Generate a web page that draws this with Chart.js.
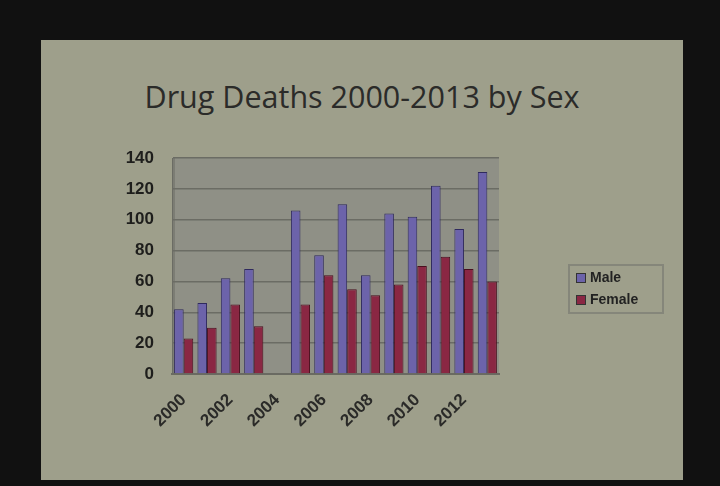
<!DOCTYPE html>
<html>
<head>
<meta charset="utf-8">
<script src="https://cdn.jsdelivr.net/npm/chart.js@4"></script>
<style>
  body { margin: 0; background: #111111; width: 720px; height: 486px; overflow: hidden; }
  #slide { position: absolute; left: 41px; top: 40px; width: 642px; height: 440px; background: #9e9f8b; }
  #title { position: absolute; left: 0; top: 35px; width: 642px; text-align: center;
           font: 30.5px "Open Sans", sans-serif; color: #2b2b29; }
  #wrap { position: absolute; left: 0; top: 0; width: 642px; height: 440px; }
  #legend { position: absolute; left: 527px; top: 224px; width: 92px; height: 46px; border: 2px solid #85867a;
            font: bold 14px "Liberation Sans", Arial, sans-serif; color: #222; }
  #legend div { height: 22px; line-height: 22px; padding-left: 6px; }
  #legend span { display: inline-block; width: 8px; height: 8px; border: 1px solid #333; margin-right: 4px; vertical-align: -1px; }
</style>
</head>
<body>
<div id="slide">
  <div id="title">Drug Deaths 2000-2013 by Sex</div>
  <div id="wrap"><canvas id="myChart"></canvas></div>
  <div id="legend"></div>
</div>
<script>
const years = ['2000', '2001', '2002', '2003', '2004', '2005', '2006', '2007', '2008', '2009', '2010', '2011', '2012', '2013'];
const male = [42, 46, 62, 68, null, 106, 77, 110, 64, 104, 102, 122, 94, 131];
const female = [23, 30, 45, 31, null, 45, 64, 55, 51, 58, 70, 76, 68, 60];
const seriesNames = ['Male', 'Female'];
const seriesColors = ['#6c63aa', '#8a2743'];
const seriesEdges = ['#2f2a5e', '#4a0f1f'];

// plot area background
const plotBg = {
    id: 'plotBg',
    beforeDraw(chart) {
        const a = chart.chartArea;
        const c = chart.ctx;
        c.save();
        c.fillStyle = '#8f9086';
        c.fillRect(a.left, a.top, a.right - a.left, a.bottom - a.top);
        c.fillStyle = '#7c7d74';
        c.fillRect(a.left, a.top, 3, a.bottom - a.top);
        c.restore();
    }
};

const ctx = document.getElementById('myChart').getContext('2d');
const myChart = new Chart(ctx, {
    type: 'bar',
    data: {
        labels: years,
        datasets: [{
            label: seriesNames[0],
            data: male,
            backgroundColor: seriesColors[0],
            borderColor: seriesEdges[0],
            borderWidth: 1
        }, {
            label: seriesNames[1],
            data: female,
            backgroundColor: seriesColors[1],
            borderColor: seriesEdges[1],
            borderWidth: 1
        }]
    },
    options: {
        responsive: true,
        maintainAspectRatio: false,
        animation: false,
        categoryPercentage: 0.82,
        barPercentage: 1.0,
        layout: { padding: { left: 0, right: 184, top: 118, bottom: 0 } },
        plugins: {
            legend: { display: false },
            tooltip: { enabled: false }
        },
        scales: {
            x: {
                grid: { display: false, drawTicks: false },
                border: { display: true, color: '#6a6a62', width: 2 },
                ticks: {
                    autoSkip: false,
                    minRotation: 45,
                    maxRotation: 45,
                    padding: 16,
                    color: '#2a2a28',
                    font: { family: 'Liberation Sans', size: 17, weight: 'bold' },
                    callback: function (v, i) { return i % 2 === 0 ? years[i] : ''; }
                },
                afterFit: function (scale) { scale.height = 106; }
            },
            y: {
                min: 0,
                max: 140,
                ticks: {
                    stepSize: 20,
                    padding: 18,
                    color: '#1e1e1c',
                    font: { family: 'Liberation Sans', size: 17, weight: 'bold' }
                },
                grid: { color: '#6b6c64', lineWidth: 1.5, drawTicks: false },
                border: { display: true, color: '#6b6c64' },
                afterFit: function (scale) { scale.width = 131; }
            }
        }
    },
    plugins: [plotBg]
});

const legend = document.getElementById('legend');
seriesNames.forEach(function (name, i) {
    legend.innerHTML += '<div><span style="background:' + seriesColors[i] + '"></span>' + name + '</div>';
});
</script>
</body>
</html>
